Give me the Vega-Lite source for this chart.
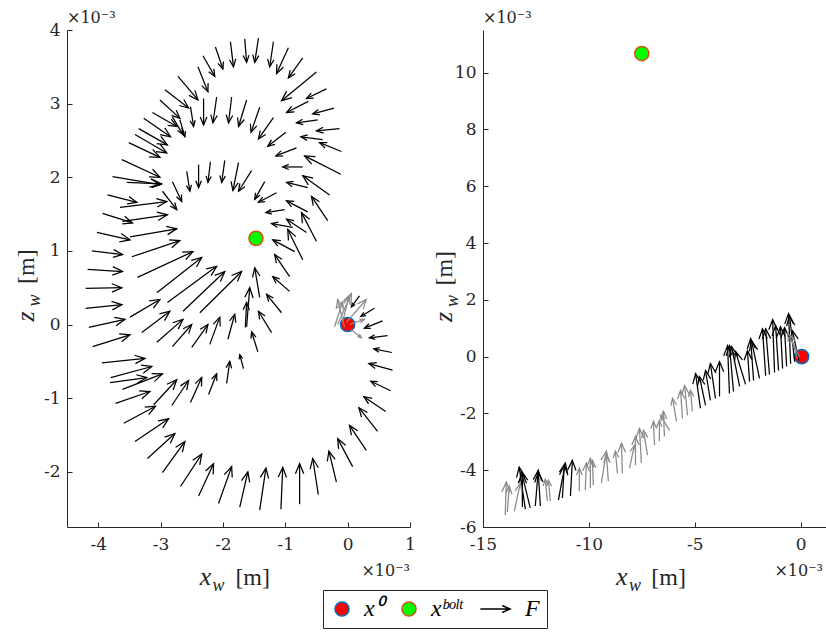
{
  "$schema": "https://vega.github.io/schema/vega-lite/v6.json",
  "background": "white",
  "padding": {"left": 13, "top": 10, "right": 0, "bottom": 0},
  "spacing": 73,
  "bounds": "flush",
  "config": {
    "view": {"stroke": null},
    "axis": {"domainColor": "#262626", "domainWidth": 1, "tickColor": "#262626", "tickWidth": 1, "tickSize": -5, "labelColor": "#262626", "labelFont": "DejaVu Serif", "labelFontSize": 17, "grid": false, "labelFlush": false, "labelOverlap": false},
    "axisX": {"labelPadding": 14},
    "axisY": {"labelPadding": 12},
    "legend": {"orient": "none", "legendX": 256, "legendY": 560, "direction": "horizontal", "columns": 3, "strokeColor": "#262626", "fillColor": "#ffffff", "padding": 7, "labelFont": "Liberation Serif", "labelFontStyle": "italic", "labelFontSize": 24, "labelColor": "#000000", "symbolSize": 200, "symbolStrokeWidth": 1.5, "labelOffset": 10, "columnPadding": 14, "symbolOpacity": 1}
  },
  "datasets": {
    "L": [
      {"x":-1.65,"y":3.88,"xt":-1.62,"yt":3.56,"g":"k"},
      {"x":-1.43,"y":3.89,"xt":-1.49,"yt":3.56,"g":"k"},
      {"x":-1.19,"y":3.84,"xt":-1.25,"yt":3.50,"g":"k"},
      {"x":-0.95,"y":3.76,"xt":-1.14,"yt":3.41,"g":"k"},
      {"x":-0.72,"y":3.62,"xt":-0.95,"yt":3.35,"g":"k"},
      {"x":-0.50,"y":3.43,"xt":-1.06,"yt":3.04,"g":"k"},
      {"x":-0.34,"y":3.20,"xt":-0.66,"yt":3.07,"g":"k"},
      {"x":-0.22,"y":2.94,"xt":-0.56,"yt":2.86,"g":"k"},
      {"x":-0.13,"y":2.66,"xt":-0.50,"yt":2.63,"g":"k"},
      {"x":-0.10,"y":2.35,"xt":-0.45,"yt":2.47,"g":"k"},
      {"x":-0.11,"y":2.04,"xt":-0.69,"yt":2.29,"g":"k"},
      {"x":-0.29,"y":1.76,"xt":-0.72,"yt":2.02,"g":"k"},
      {"x":-1.88,"y":3.84,"xt":-1.83,"yt":3.50,"g":"k"},
      {"x":-2.12,"y":3.77,"xt":-2.00,"yt":3.47,"g":"k"},
      {"x":-2.32,"y":3.65,"xt":-2.13,"yt":3.37,"g":"k"},
      {"x":-2.40,"y":3.50,"xt":-2.24,"yt":3.16,"g":"k"},
      {"x":-2.72,"y":3.37,"xt":-2.40,"yt":3.05,"g":"k"},
      {"x":-2.93,"y":3.19,"xt":-2.55,"yt":2.94,"g":"k"},
      {"x":-3.01,"y":3.05,"xt":-2.69,"yt":2.80,"g":"k"},
      {"x":-3.13,"y":2.88,"xt":-2.74,"yt":2.69,"g":"k"},
      {"x":-3.27,"y":2.80,"xt":-2.84,"yt":2.55,"g":"k"},
      {"x":-3.35,"y":2.66,"xt":-2.89,"yt":2.44,"g":"k"},
      {"x":-3.41,"y":2.58,"xt":-2.90,"yt":2.33,"g":"k"},
      {"x":-3.51,"y":2.47,"xt":-3.01,"yt":2.27,"g":"k"},
      {"x":-3.62,"y":2.24,"xt":-3.01,"yt":2.00,"g":"k"},
      {"x":-3.77,"y":2.01,"xt":-3.01,"yt":1.90,"g":"k"},
      {"x":-3.54,"y":1.93,"xt":-2.98,"yt":1.91,"g":"k"},
      {"x":-3.85,"y":1.76,"xt":-3.38,"yt":1.66,"g":"k"},
      {"x":-3.93,"y":1.51,"xt":-3.45,"yt":1.38,"g":"k"},
      {"x":-4.02,"y":1.25,"xt":-3.49,"yt":1.15,"g":"k"},
      {"x":-4.10,"y":1.00,"xt":-3.61,"yt":0.95,"g":"k"},
      {"x":-4.17,"y":0.75,"xt":-3.61,"yt":0.72,"g":"k"},
      {"x":-4.20,"y":0.49,"xt":-3.62,"yt":0.50,"g":"k"},
      {"x":-4.20,"y":0.22,"xt":-3.62,"yt":0.27,"g":"k"},
      {"x":-4.15,"y":-0.04,"xt":-3.57,"yt":0.07,"g":"k"},
      {"x":-4.09,"y":-0.30,"xt":-3.49,"yt":-0.14,"g":"k"},
      {"x":-3.94,"y":-0.52,"xt":-3.25,"yt":-0.46,"g":"k"},
      {"x":-3.80,"y":-0.72,"xt":-3.14,"yt":-0.57,"g":"k"},
      {"x":-3.81,"y":-0.79,"xt":-3.22,"yt":-0.72,"g":"k"},
      {"x":-3.72,"y":-1.07,"xt":-3.17,"yt":-0.91,"g":"k"},
      {"x":-3.59,"y":-1.34,"xt":-3.08,"yt":-1.11,"g":"k"},
      {"x":-3.41,"y":-1.59,"xt":-2.87,"yt":-1.28,"g":"k"},
      {"x":-3.21,"y":-1.82,"xt":-2.77,"yt":-1.48,"g":"k"},
      {"x":-2.97,"y":-2.01,"xt":-2.61,"yt":-1.59,"g":"k"},
      {"x":-2.68,"y":-2.20,"xt":-2.34,"yt":-1.76,"g":"k"},
      {"x":-2.39,"y":-2.33,"xt":-2.15,"yt":-1.89,"g":"k"},
      {"x":-2.07,"y":-2.43,"xt":-1.86,"yt":-1.93,"g":"k"},
      {"x":-1.73,"y":-2.48,"xt":-1.60,"yt":-2.00,"g":"k"},
      {"x":-1.41,"y":-2.52,"xt":-1.31,"yt":-1.95,"g":"k"},
      {"x":-1.07,"y":-2.51,"xt":-1.04,"yt":-1.94,"g":"k"},
      {"x":-0.77,"y":-2.44,"xt":-0.77,"yt":-1.89,"g":"k"},
      {"x":-0.47,"y":-2.31,"xt":-0.56,"yt":-1.82,"g":"k"},
      {"x":-0.18,"y":-2.14,"xt":-0.30,"yt":-1.72,"g":"k"},
      {"x":0.08,"y":-1.93,"xt":-0.16,"yt":-1.55,"g":"k"},
      {"x":0.30,"y":-1.71,"xt":0.03,"yt":-1.37,"g":"k"},
      {"x":0.48,"y":-1.45,"xt":0.18,"yt":-1.13,"g":"k"},
      {"x":0.61,"y":-1.18,"xt":0.26,"yt":-0.98,"g":"k"},
      {"x":0.69,"y":-0.90,"xt":0.37,"yt":-0.77,"g":"k"},
      {"x":0.72,"y":-0.62,"xt":0.34,"yt":-0.53,"g":"k"},
      {"x":0.71,"y":-0.38,"xt":0.42,"yt":-0.33,"g":"k"},
      {"x":0.64,"y":-0.15,"xt":0.35,"yt":-0.18,"g":"k"},
      {"x":0.56,"y":0.05,"xt":0.27,"yt":-0.05,"g":"k"},
      {"x":0.43,"y":0.22,"xt":0.21,"yt":0.11,"g":"k"},
      {"x":0.19,"y":0.39,"xt":0.06,"yt":0.24,"g":"k"},
      {"x":-3.61,"y":-0.88,"xt":-2.97,"yt":-0.67,"g":"k"},
      {"x":-3.11,"y":-1.09,"xt":-2.74,"yt":-0.75,"g":"k"},
      {"x":-2.82,"y":-1.10,"xt":-2.55,"yt":-0.76,"g":"k"},
      {"x":-2.52,"y":-1.06,"xt":-2.34,"yt":-0.72,"g":"k"},
      {"x":-2.23,"y":-0.95,"xt":-2.10,"yt":-0.67,"g":"k"},
      {"x":-1.94,"y":-0.80,"xt":-1.89,"yt":-0.50,"g":"k"},
      {"x":-1.67,"y":-0.60,"xt":-1.73,"yt":-0.41,"g":"k"},
      {"x":-3.65,"y":1.59,"xt":-2.90,"yt":1.67,"g":"k"},
      {"x":-3.61,"y":1.40,"xt":-2.89,"yt":1.49,"g":"k"},
      {"x":-3.49,"y":1.19,"xt":-2.74,"yt":1.30,"g":"k"},
      {"x":-3.46,"y":0.92,"xt":-2.69,"yt":1.14,"g":"k"},
      {"x":-3.37,"y":0.64,"xt":-2.48,"yt":0.99,"g":"k"},
      {"x":-3.06,"y":0.43,"xt":-2.34,"yt":0.91,"g":"k"},
      {"x":-2.89,"y":0.30,"xt":-2.10,"yt":0.79,"g":"k"},
      {"x":-2.64,"y":0.18,"xt":-1.97,"yt":0.72,"g":"k"},
      {"x":-2.37,"y":0.16,"xt":-1.70,"yt":0.72,"g":"k"},
      {"x":-3.49,"y":0.10,"xt":-3.01,"yt":0.34,"g":"k"},
      {"x":-3.30,"y":-0.11,"xt":-2.85,"yt":0.18,"g":"k"},
      {"x":-3.06,"y":-0.24,"xt":-2.64,"yt":0.07,"g":"k"},
      {"x":-2.81,"y":-0.30,"xt":-2.50,"yt":0.00,"g":"k"},
      {"x":-2.50,"y":-0.31,"xt":-2.24,"yt":0.00,"g":"k"},
      {"x":-2.21,"y":-0.27,"xt":-2.05,"yt":0.10,"g":"k"},
      {"x":-1.92,"y":-0.20,"xt":-1.81,"yt":0.14,"g":"k"},
      {"x":-1.62,"y":-0.03,"xt":-1.57,"yt":0.50,"g":"k"},
      {"x":-1.44,"y":-0.37,"xt":-1.54,"yt":-0.10,"g":"k"},
      {"x":-1.22,"y":-0.11,"xt":-1.43,"yt":0.18,"g":"k"},
      {"x":-1.06,"y":0.16,"xt":-1.30,"yt":0.41,"g":"k"},
      {"x":-0.93,"y":0.45,"xt":-1.20,"yt":0.65,"g":"k"},
      {"x":-1.64,"y":-0.04,"xt":-1.62,"yt":0.30,"g":"k"},
      {"x":-1.41,"y":0.37,"xt":-1.49,"yt":0.77,"g":"k"},
      {"x":-1.14,"y":1.79,"xt":-1.43,"yt":1.66,"g":"k"},
      {"x":-1.01,"y":1.56,"xt":-1.31,"yt":1.52,"g":"k"},
      {"x":-0.64,"y":1.53,"xt":-0.98,"yt":1.68,"g":"k"},
      {"x":-0.32,"y":1.41,"xt":-0.58,"yt":1.74,"g":"k"},
      {"x":-0.50,"y":1.13,"xt":-0.74,"yt":1.52,"g":"k"},
      {"x":-0.88,"y":1.32,"xt":-1.22,"yt":1.37,"g":"k"},
      {"x":-0.66,"y":1.25,"xt":-0.98,"yt":1.43,"g":"k"},
      {"x":-0.72,"y":0.88,"xt":-0.96,"yt":1.29,"g":"k"},
      {"x":-0.85,"y":0.99,"xt":-1.20,"yt":1.15,"g":"k"},
      {"x":-0.93,"y":0.65,"xt":-1.17,"yt":0.95,"g":"k"},
      {"x":-2.97,"y":1.81,"xt":-2.74,"yt":1.56,"g":"k"},
      {"x":-2.81,"y":1.94,"xt":-2.66,"yt":1.67,"g":"k"},
      {"x":-2.58,"y":2.08,"xt":-2.53,"yt":1.81,"g":"k"},
      {"x":-2.39,"y":2.17,"xt":-2.39,"yt":1.86,"g":"k"},
      {"x":-2.20,"y":2.21,"xt":-2.24,"yt":1.93,"g":"k"},
      {"x":-1.97,"y":2.23,"xt":-2.02,"yt":1.93,"g":"k"},
      {"x":-1.75,"y":2.20,"xt":-1.84,"yt":1.82,"g":"k"},
      {"x":-1.54,"y":2.09,"xt":-1.75,"yt":1.81,"g":"k"},
      {"x":-1.33,"y":1.94,"xt":-1.49,"yt":1.70,"g":"k"},
      {"x":-2.52,"y":2.96,"xt":-2.47,"yt":2.69,"g":"k"},
      {"x":-2.31,"y":3.07,"xt":-2.31,"yt":2.71,"g":"k"},
      {"x":-2.10,"y":3.09,"xt":-2.16,"yt":2.74,"g":"k"},
      {"x":-1.86,"y":3.09,"xt":-1.91,"yt":2.74,"g":"k"},
      {"x":-1.62,"y":3.05,"xt":-1.75,"yt":2.69,"g":"k"},
      {"x":-1.41,"y":2.95,"xt":-1.55,"yt":2.61,"g":"k"},
      {"x":-1.19,"y":2.81,"xt":-1.43,"yt":2.52,"g":"k"},
      {"x":-0.99,"y":2.61,"xt":-1.28,"yt":2.42,"g":"k"},
      {"x":-0.82,"y":2.40,"xt":-1.15,"yt":2.29,"g":"k"},
      {"x":-0.72,"y":2.14,"xt":-1.04,"yt":2.14,"g":"k"},
      {"x":-0.64,"y":1.86,"xt":-0.98,"yt":1.93,"g":"k"},
      {"x":-2.69,"y":2.78,"xt":-2.61,"yt":2.55,"g":"k"},
      {"x":-0.63,"y":3.03,"xt":-0.98,"yt":2.88,"g":"k"},
      {"x":-0.48,"y":2.78,"xt":-0.82,"yt":2.74,"g":"k"},
      {"x":-0.40,"y":2.51,"xt":-0.75,"yt":2.55,"g":"k"},
      {"x":-2.81,"y":2.82,"xt":-2.64,"yt":2.58,"g":"k"},
      {"x":-0.21,"y":-0.03,"xt":-0.08,"yt":0.31,"g":"g"},
      {"x":-0.16,"y":0.00,"xt":0.06,"yt":0.42,"g":"g"},
      {"x":-0.02,"y":0.03,"xt":0.30,"yt":0.34,"g":"g"},
      {"x":0.03,"y":0.00,"xt":0.27,"yt":0.07,"g":"g"},
      {"x":-0.05,"y":-0.04,"xt":-0.16,"yt":0.34,"g":"g"},
      {"x":0.06,"y":-0.07,"xt":0.22,"yt":-0.18,"g":"g"},
      {"x":-0.08,"y":0.04,"xt":0.02,"yt":0.38,"g":"g"}
    ],
    "R": [
      {"x":-13.95,"y":-5.58,"xt":-13.90,"yt":-4.42,"g":"g"},
      {"x":-13.85,"y":-5.47,"xt":-13.76,"yt":-4.56,"g":"g"},
      {"x":-13.52,"y":-5.44,"xt":-13.24,"yt":-4.46,"g":"g"},
      {"x":-13.00,"y":-5.37,"xt":-13.29,"yt":-3.89,"g":"k"},
      {"x":-12.77,"y":-5.33,"xt":-13.19,"yt":-4.04,"g":"k"},
      {"x":-13.14,"y":-5.30,"xt":-13.14,"yt":-4.11,"g":"k"},
      {"x":-12.53,"y":-5.26,"xt":-12.39,"yt":-4.00,"g":"k"},
      {"x":-12.29,"y":-5.26,"xt":-12.39,"yt":-4.07,"g":"k"},
      {"x":-11.96,"y":-5.09,"xt":-12.06,"yt":-4.32,"g":"g"},
      {"x":-11.82,"y":-5.09,"xt":-11.91,"yt":-4.35,"g":"g"},
      {"x":-11.44,"y":-5.05,"xt":-11.11,"yt":-3.75,"g":"k"},
      {"x":-11.25,"y":-4.98,"xt":-11.16,"yt":-3.82,"g":"k"},
      {"x":-10.87,"y":-4.91,"xt":-10.78,"yt":-3.65,"g":"k"},
      {"x":-10.45,"y":-4.74,"xt":-10.45,"yt":-3.93,"g":"g"},
      {"x":-10.17,"y":-4.70,"xt":-10.12,"yt":-3.75,"g":"g"},
      {"x":-9.93,"y":-4.63,"xt":-9.93,"yt":-3.58,"g":"g"},
      {"x":-9.79,"y":-4.53,"xt":-9.83,"yt":-3.65,"g":"g"},
      {"x":-9.41,"y":-4.46,"xt":-9.17,"yt":-3.33,"g":"g"},
      {"x":-9.08,"y":-4.39,"xt":-9.17,"yt":-3.47,"g":"g"},
      {"x":-8.65,"y":-4.11,"xt":-8.75,"yt":-3.33,"g":"g"},
      {"x":-8.42,"y":-4.11,"xt":-8.46,"yt":-3.05,"g":"g"},
      {"x":-8.08,"y":-3.93,"xt":-7.85,"yt":-3.12,"g":"g"},
      {"x":-7.80,"y":-3.82,"xt":-7.80,"yt":-2.81,"g":"g"},
      {"x":-7.52,"y":-3.75,"xt":-7.61,"yt":-2.53,"g":"g"},
      {"x":-7.23,"y":-3.47,"xt":-7.42,"yt":-2.60,"g":"g"},
      {"x":-6.90,"y":-3.12,"xt":-6.95,"yt":-2.28,"g":"g"},
      {"x":-6.67,"y":-2.98,"xt":-6.67,"yt":-2.25,"g":"g"},
      {"x":-6.43,"y":-2.81,"xt":-6.48,"yt":-1.93,"g":"g"},
      {"x":-6.19,"y":-2.60,"xt":-6.62,"yt":-2.07,"g":"g"},
      {"x":-5.86,"y":-2.28,"xt":-6.05,"yt":-1.47,"g":"g"},
      {"x":-5.58,"y":-2.18,"xt":-5.67,"yt":-1.19,"g":"g"},
      {"x":-5.34,"y":-2.07,"xt":-5.48,"yt":-1.02,"g":"g"},
      {"x":-5.11,"y":-1.93,"xt":-5.20,"yt":-1.19,"g":"g"},
      {"x":-4.73,"y":-1.82,"xt":-4.96,"yt":-0.60,"g":"k"},
      {"x":-4.49,"y":-1.72,"xt":-4.78,"yt":-0.70,"g":"k"},
      {"x":-4.26,"y":-1.54,"xt":-4.49,"yt":-0.49,"g":"k"},
      {"x":-4.02,"y":-1.47,"xt":-4.26,"yt":-0.25,"g":"k"},
      {"x":-3.83,"y":-1.40,"xt":-3.83,"yt":-0.18,"g":"k"},
      {"x":-3.36,"y":-1.30,"xt":-3.45,"yt":0.39,"g":"k"},
      {"x":-3.17,"y":-1.23,"xt":-3.36,"yt":0.39,"g":"k"},
      {"x":-2.88,"y":-1.05,"xt":-3.26,"yt":0.35,"g":"k"},
      {"x":-2.60,"y":-0.98,"xt":-3.07,"yt":0.18,"g":"k"},
      {"x":-2.41,"y":-0.88,"xt":-2.51,"yt":0.21,"g":"k"},
      {"x":-2.22,"y":-0.84,"xt":-2.36,"yt":0.63,"g":"k"},
      {"x":-1.94,"y":-0.77,"xt":-2.32,"yt":0.56,"g":"k"},
      {"x":-1.65,"y":-0.67,"xt":-1.80,"yt":0.98,"g":"k"},
      {"x":-1.47,"y":-0.63,"xt":-1.65,"yt":0.98,"g":"k"},
      {"x":-1.23,"y":-0.56,"xt":-1.32,"yt":1.30,"g":"k"},
      {"x":-1.04,"y":-0.49,"xt":-1.18,"yt":1.09,"g":"k"},
      {"x":-0.85,"y":-0.42,"xt":-0.95,"yt":1.05,"g":"k"},
      {"x":-0.66,"y":-0.35,"xt":-0.76,"yt":1.02,"g":"k"},
      {"x":-0.47,"y":-0.25,"xt":-0.57,"yt":1.51,"g":"k"},
      {"x":-0.28,"y":-0.18,"xt":-0.52,"yt":1.44,"g":"k"},
      {"x":-0.09,"y":-0.14,"xt":-0.38,"yt":0.91,"g":"k"},
      {"x":-0.14,"y":-0.07,"xt":-0.47,"yt":0.74,"g":"g"},
      {"x":-0.05,"y":0.00,"xt":-0.61,"yt":0.81,"g":"g"}
    ],
    "ML": [
      {"x":0,"y":0,"kind":"x⁰"},
      {"x":-1.47,"y":1.17,"kind":"xᵇᵒˡᵗ"}
    ],
    "MR": [
      {"x":0.05,"y":0,"kind":"x⁰"},
      {"x":-7.5,"y":10.67,"kind":"xᵇᵒˡᵗ"}
    ]
  },
  "hconcat": [
    {
      "width": 343,
      "height": 497,
      "layer": [
        {
          "data": {"name": "ML"},
          "mark": {"type": "point", "filled": true, "size": 200, "strokeWidth": 1.5, "opacity": 1},
          "encoding": {
            "x": {"field": "x", "type": "quantitative", "scale": {"domain": [-4.5, 1], "nice": false, "zero": false}, "axis": {"values": [-4, -3, -2, -1, 0, 1], "title": null, "labelExpr": "replace(datum.label, '−', '-')"}},
            "y": {"field": "y", "type": "quantitative", "scale": {"domain": [-2.75, 4], "nice": false, "zero": false}, "axis": {"values": [-2, -1, 0, 1, 2, 3, 4], "title": null, "labelExpr": "replace(datum.label, '−', '-')"}},
            "fill": {"field": "kind", "type": "nominal", "scale": {"domain": ["x⁰", "xᵇᵒˡᵗ", "F"], "range": ["#ff0000", "#00ff00", "transparent"]}, "legend": {"title": null}},
            "stroke": {"field": "kind", "type": "nominal", "scale": {"domain": ["x⁰", "xᵇᵒˡᵗ", "F"], "range": ["#0072bd", "#d95319", "#000000"]}, "legend": {"title": null}},
            "shape": {"field": "kind", "type": "nominal", "scale": {"domain": ["x⁰", "xᵇᵒˡᵗ", "F"], "range": ["circle", "circle", "M-3.2,0L1,0M-0.1,-0.5L1,0L-0.1,0.5"]}, "legend": {"title": null}}
          }
        },
        {
          "data": {"name": "L"},
          "mark": {"type": "rule", "strokeWidth": 1.25},
          "encoding": {
            "x": {"field": "x", "type": "quantitative", "scale": {"domain": [-4.5, 1], "nice": false, "zero": false}, "axis": {"values": [-4, -3, -2, -1, 0, 1], "title": null, "labelExpr": "replace(datum.label, '−', '-')"}},
            "y": {"field": "y", "type": "quantitative", "scale": {"domain": [-2.75, 4], "nice": false, "zero": false}, "axis": {"values": [-2, -1, 0, 1, 2, 3, 4], "title": null, "labelExpr": "replace(datum.label, '−', '-')"}},
            "x2": {"field": "xt"},
            "y2": {"field": "yt"},
            "color": {"field": "g", "type": "nominal", "scale": {"domain": ["k", "g"], "range": ["#000000", "#8a8a8a"]}, "legend": null}
          }
        },
        {
          "data": {"name": "L"},
          "transform": [
            {"calculate": "(datum.xt - datum.x) * 62.364", "as": "px"},
            {"calculate": "(datum.y - datum.yt) * 73.63", "as": "py"},
            {"calculate": "atan2(datum.py, datum.px) * 180 / PI", "as": "ang"},
            {"calculate": "pow(2 * min(0.3 * sqrt(datum.px * datum.px + datum.py * datum.py), 10), 2)", "as": "hs"}
          ],
          "mark": {"type": "point", "filled": false, "strokeWidth": 1.25, "opacity": 1, "shape": "M-1,-0.42L0,0L-1,0.42"},
          "encoding": {
            "x": {"field": "xt", "type": "quantitative", "scale": {"domain": [-4.5, 1], "nice": false, "zero": false}, "axis": {"values": [-4, -3, -2, -1, 0, 1], "title": null, "labelExpr": "replace(datum.label, '−', '-')"}},
            "y": {"field": "yt", "type": "quantitative", "scale": {"domain": [-2.75, 4], "nice": false, "zero": false}, "axis": {"values": [-2, -1, 0, 1, 2, 3, 4], "title": null, "labelExpr": "replace(datum.label, '−', '-')"}},
            "angle": {"field": "ang", "type": "quantitative", "scale": null},
            "size": {"field": "hs", "type": "quantitative", "scale": null},
            "color": {"field": "g", "type": "nominal", "scale": {"domain": ["k", "g"], "range": ["#000000", "#8a8a8a"]}, "legend": null}
          }
        },
        {
          "data": {"values": [{}]},
          "mark": {"type": "text", "text": "×10⁻³", "font": "DejaVu Serif", "fontSize": 16, "align": "left", "baseline": "alphabetic", "dy": -7, "color": "#262626"},
          "encoding": {
            "x": {"datum": -4.5, "type": "quantitative", "scale": {"domain": [-4.5, 1], "nice": false, "zero": false}, "axis": {"values": [-4, -3, -2, -1, 0, 1], "title": null, "labelExpr": "replace(datum.label, '−', '-')"}},
            "y": {"datum": 4, "type": "quantitative", "scale": {"domain": [-2.75, 4], "nice": false, "zero": false}, "axis": {"values": [-2, -1, 0, 1, 2, 3, 4], "title": null, "labelExpr": "replace(datum.label, '−', '-')"}}
          }
        },
        {
          "data": {"values": [{}]},
          "mark": {"type": "text", "text": "×10⁻³", "font": "DejaVu Serif", "fontSize": 16, "align": "right", "baseline": "alphabetic", "dy": 49, "color": "#262626"},
          "encoding": {
            "x": {"datum": 1, "type": "quantitative", "scale": {"domain": [-4.5, 1], "nice": false, "zero": false}, "axis": {"values": [-4, -3, -2, -1, 0, 1], "title": null, "labelExpr": "replace(datum.label, '−', '-')"}},
            "y": {"datum": -2.75, "type": "quantitative", "scale": {"domain": [-2.75, 4], "nice": false, "zero": false}, "axis": {"values": [-2, -1, 0, 1, 2, 3, 4], "title": null, "labelExpr": "replace(datum.label, '−', '-')"}}
          }
        },
        {
          "data": {"values": [{}]},
          "mark": {"type": "text", "text": "x", "font": "Liberation Serif", "fontStyle": "italic", "fontSize": 26, "align": "left", "baseline": "alphabetic", "dy": 58, "color": "#262626"},
          "encoding": {
            "x": {"datum": -2.373, "type": "quantitative", "scale": {"domain": [-4.5, 1], "nice": false, "zero": false}, "axis": {"values": [-4, -3, -2, -1, 0, 1], "title": null, "labelExpr": "replace(datum.label, '−', '-')"}},
            "y": {"datum": -2.75, "type": "quantitative", "scale": {"domain": [-2.75, 4], "nice": false, "zero": false}, "axis": {"values": [-2, -1, 0, 1, 2, 3, 4], "title": null, "labelExpr": "replace(datum.label, '−', '-')"}}
          }
        },
        {
          "data": {"values": [{}]},
          "mark": {"type": "text", "text": "w", "font": "Liberation Serif", "fontStyle": "italic", "fontSize": 18, "align": "left", "baseline": "alphabetic", "dy": 64, "color": "#262626"},
          "encoding": {
            "x": {"datum": -2.165, "type": "quantitative", "scale": {"domain": [-4.5, 1], "nice": false, "zero": false}, "axis": {"values": [-4, -3, -2, -1, 0, 1], "title": null, "labelExpr": "replace(datum.label, '−', '-')"}},
            "y": {"datum": -2.75, "type": "quantitative", "scale": {"domain": [-2.75, 4], "nice": false, "zero": false}, "axis": {"values": [-2, -1, 0, 1, 2, 3, 4], "title": null, "labelExpr": "replace(datum.label, '−', '-')"}}
          }
        },
        {
          "data": {"values": [{}]},
          "mark": {"type": "text", "text": "[m]", "font": "Liberation Serif", "fontSize": 24, "align": "left", "baseline": "alphabetic", "dy": 58, "color": "#262626"},
          "encoding": {
            "x": {"datum": -1.8, "type": "quantitative", "scale": {"domain": [-4.5, 1], "nice": false, "zero": false}, "axis": {"values": [-4, -3, -2, -1, 0, 1], "title": null, "labelExpr": "replace(datum.label, '−', '-')"}},
            "y": {"datum": -2.75, "type": "quantitative", "scale": {"domain": [-2.75, 4], "nice": false, "zero": false}, "axis": {"values": [-2, -1, 0, 1, 2, 3, 4], "title": null, "labelExpr": "replace(datum.label, '−', '-')"}}
          }
        },
        {
          "data": {"values": [{}]},
          "mark": {"type": "text", "text": "z", "font": "Liberation Serif", "fontStyle": "italic", "fontSize": 26, "align": "left", "baseline": "alphabetic", "angle": 270, "dy": -33, "color": "#262626"},
          "encoding": {
            "x": {"datum": -4.5, "type": "quantitative", "scale": {"domain": [-4.5, 1], "nice": false, "zero": false}, "axis": {"values": [-4, -3, -2, -1, 0, 1], "title": null, "labelExpr": "replace(datum.label, '−', '-')"}},
            "y": {"datum": 0.041, "type": "quantitative", "scale": {"domain": [-2.75, 4], "nice": false, "zero": false}, "axis": {"values": [-2, -1, 0, 1, 2, 3, 4], "title": null, "labelExpr": "replace(datum.label, '−', '-')"}}
          }
        },
        {
          "data": {"values": [{}]},
          "mark": {"type": "text", "text": "w", "font": "Liberation Serif", "fontStyle": "italic", "fontSize": 18, "align": "left", "baseline": "alphabetic", "angle": 270, "dy": -27, "color": "#262626"},
          "encoding": {
            "x": {"datum": -4.5, "type": "quantitative", "scale": {"domain": [-4.5, 1], "nice": false, "zero": false}, "axis": {"values": [-4, -3, -2, -1, 0, 1], "title": null, "labelExpr": "replace(datum.label, '−', '-')"}},
            "y": {"datum": 0.244, "type": "quantitative", "scale": {"domain": [-2.75, 4], "nice": false, "zero": false}, "axis": {"values": [-2, -1, 0, 1, 2, 3, 4], "title": null, "labelExpr": "replace(datum.label, '−', '-')"}}
          }
        },
        {
          "data": {"values": [{}]},
          "mark": {"type": "text", "text": "[m]", "font": "Liberation Serif", "fontSize": 24, "align": "left", "baseline": "alphabetic", "angle": 270, "dy": -33, "color": "#262626"},
          "encoding": {
            "x": {"datum": -4.5, "type": "quantitative", "scale": {"domain": [-4.5, 1], "nice": false, "zero": false}, "axis": {"values": [-4, -3, -2, -1, 0, 1], "title": null, "labelExpr": "replace(datum.label, '−', '-')"}},
            "y": {"datum": 0.55, "type": "quantitative", "scale": {"domain": [-2.75, 4], "nice": false, "zero": false}, "axis": {"values": [-2, -1, 0, 1, 2, 3, 4], "title": null, "labelExpr": "replace(datum.label, '−', '-')"}}
          }
        }
      ]
    },
    {
      "width": 343,
      "height": 497,
      "layer": [
        {
          "data": {"name": "MR"},
          "mark": {"type": "point", "filled": true, "size": 200, "strokeWidth": 1.5, "opacity": 1},
          "encoding": {
            "x": {"field": "x", "type": "quantitative", "scale": {"domain": [-15, 1.2], "nice": false, "zero": false}, "axis": {"values": [-15, -10, -5, 0], "title": null, "labelExpr": "replace(datum.label, '−', '-')"}},
            "y": {"field": "y", "type": "quantitative", "scale": {"domain": [-6, 11.5], "nice": false, "zero": false}, "axis": {"values": [-6, -4, -2, 0, 2, 4, 6, 8, 10], "title": null, "labelExpr": "replace(datum.label, '−', '-')"}},
            "fill": {"field": "kind", "type": "nominal", "scale": {"domain": ["x⁰", "xᵇᵒˡᵗ", "F"], "range": ["#ff0000", "#00ff00", "transparent"]}, "legend": {"title": null}},
            "stroke": {"field": "kind", "type": "nominal", "scale": {"domain": ["x⁰", "xᵇᵒˡᵗ", "F"], "range": ["#0072bd", "#d95319", "#000000"]}, "legend": {"title": null}},
            "shape": {"field": "kind", "type": "nominal", "scale": {"domain": ["x⁰", "xᵇᵒˡᵗ", "F"], "range": ["circle", "circle", "M-3.2,0L1,0M-0.1,-0.5L1,0L-0.1,0.5"]}, "legend": {"title": null}}
          }
        },
        {
          "data": {"name": "R"},
          "mark": {"type": "rule", "strokeWidth": 1.25},
          "encoding": {
            "x": {"field": "x", "type": "quantitative", "scale": {"domain": [-15, 1.2], "nice": false, "zero": false}, "axis": {"values": [-15, -10, -5, 0], "title": null, "labelExpr": "replace(datum.label, '−', '-')"}},
            "y": {"field": "y", "type": "quantitative", "scale": {"domain": [-6, 11.5], "nice": false, "zero": false}, "axis": {"values": [-6, -4, -2, 0, 2, 4, 6, 8, 10], "title": null, "labelExpr": "replace(datum.label, '−', '-')"}},
            "x2": {"field": "xt"},
            "y2": {"field": "yt"},
            "color": {"field": "g", "type": "nominal", "scale": {"domain": ["k", "g"], "range": ["#000000", "#8a8a8a"]}, "legend": null}
          }
        },
        {
          "data": {"name": "R"},
          "transform": [
            {"calculate": "(datum.xt - datum.x) * 21.173", "as": "px"},
            {"calculate": "(datum.y - datum.yt) * 28.4", "as": "py"},
            {"calculate": "atan2(datum.py, datum.px) * 180 / PI", "as": "ang"},
            {"calculate": "pow(2 * min(0.3 * sqrt(datum.px * datum.px + datum.py * datum.py), 10), 2)", "as": "hs"}
          ],
          "mark": {"type": "point", "filled": false, "strokeWidth": 1.25, "opacity": 1, "shape": "M-1,-0.42L0,0L-1,0.42"},
          "encoding": {
            "x": {"field": "xt", "type": "quantitative", "scale": {"domain": [-15, 1.2], "nice": false, "zero": false}, "axis": {"values": [-15, -10, -5, 0], "title": null, "labelExpr": "replace(datum.label, '−', '-')"}},
            "y": {"field": "yt", "type": "quantitative", "scale": {"domain": [-6, 11.5], "nice": false, "zero": false}, "axis": {"values": [-6, -4, -2, 0, 2, 4, 6, 8, 10], "title": null, "labelExpr": "replace(datum.label, '−', '-')"}},
            "angle": {"field": "ang", "type": "quantitative", "scale": null},
            "size": {"field": "hs", "type": "quantitative", "scale": null},
            "color": {"field": "g", "type": "nominal", "scale": {"domain": ["k", "g"], "range": ["#000000", "#8a8a8a"]}, "legend": null}
          }
        },
        {
          "data": {"values": [{}]},
          "mark": {"type": "text", "text": "×10⁻³", "font": "DejaVu Serif", "fontSize": 16, "align": "left", "baseline": "alphabetic", "dy": -7, "color": "#262626"},
          "encoding": {
            "x": {"datum": -15, "type": "quantitative", "scale": {"domain": [-15, 1.2], "nice": false, "zero": false}, "axis": {"values": [-15, -10, -5, 0], "title": null, "labelExpr": "replace(datum.label, '−', '-')"}},
            "y": {"datum": 11.5, "type": "quantitative", "scale": {"domain": [-6, 11.5], "nice": false, "zero": false}, "axis": {"values": [-6, -4, -2, 0, 2, 4, 6, 8, 10], "title": null, "labelExpr": "replace(datum.label, '−', '-')"}}
          }
        },
        {
          "data": {"values": [{}]},
          "mark": {"type": "text", "text": "×10⁻³", "font": "DejaVu Serif", "fontSize": 16, "align": "right", "baseline": "alphabetic", "dy": 49, "dx": -3, "color": "#262626"},
          "encoding": {
            "x": {"datum": 1.2, "type": "quantitative", "scale": {"domain": [-15, 1.2], "nice": false, "zero": false}, "axis": {"values": [-15, -10, -5, 0], "title": null, "labelExpr": "replace(datum.label, '−', '-')"}},
            "y": {"datum": -6, "type": "quantitative", "scale": {"domain": [-6, 11.5], "nice": false, "zero": false}, "axis": {"values": [-6, -4, -2, 0, 2, 4, 6, 8, 10], "title": null, "labelExpr": "replace(datum.label, '−', '-')"}}
          }
        },
        {
          "data": {"values": [{}]},
          "mark": {"type": "text", "text": "x", "font": "Liberation Serif", "fontStyle": "italic", "fontSize": 26, "align": "left", "baseline": "alphabetic", "dy": 58, "color": "#262626"},
          "encoding": {
            "x": {"datum": -8.718, "type": "quantitative", "scale": {"domain": [-15, 1.2], "nice": false, "zero": false}, "axis": {"values": [-15, -10, -5, 0], "title": null, "labelExpr": "replace(datum.label, '−', '-')"}},
            "y": {"datum": -6, "type": "quantitative", "scale": {"domain": [-6, 11.5], "nice": false, "zero": false}, "axis": {"values": [-6, -4, -2, 0, 2, 4, 6, 8, 10], "title": null, "labelExpr": "replace(datum.label, '−', '-')"}}
          }
        },
        {
          "data": {"values": [{}]},
          "mark": {"type": "text", "text": "w", "font": "Liberation Serif", "fontStyle": "italic", "fontSize": 18, "align": "left", "baseline": "alphabetic", "dy": 64, "color": "#262626"},
          "encoding": {
            "x": {"datum": -8.104, "type": "quantitative", "scale": {"domain": [-15, 1.2], "nice": false, "zero": false}, "axis": {"values": [-15, -10, -5, 0], "title": null, "labelExpr": "replace(datum.label, '−', '-')"}},
            "y": {"datum": -6, "type": "quantitative", "scale": {"domain": [-6, 11.5], "nice": false, "zero": false}, "axis": {"values": [-6, -4, -2, 0, 2, 4, 6, 8, 10], "title": null, "labelExpr": "replace(datum.label, '−', '-')"}}
          }
        },
        {
          "data": {"values": [{}]},
          "mark": {"type": "text", "text": "[m]", "font": "Liberation Serif", "fontSize": 24, "align": "left", "baseline": "alphabetic", "dy": 58, "color": "#262626"},
          "encoding": {
            "x": {"datum": -7.05, "type": "quantitative", "scale": {"domain": [-15, 1.2], "nice": false, "zero": false}, "axis": {"values": [-15, -10, -5, 0], "title": null, "labelExpr": "replace(datum.label, '−', '-')"}},
            "y": {"datum": -6, "type": "quantitative", "scale": {"domain": [-6, 11.5], "nice": false, "zero": false}, "axis": {"values": [-6, -4, -2, 0, 2, 4, 6, 8, 10], "title": null, "labelExpr": "replace(datum.label, '−', '-')"}}
          }
        },
        {
          "data": {"values": [{}]},
          "mark": {"type": "text", "text": "z", "font": "Liberation Serif", "fontStyle": "italic", "fontSize": 26, "align": "left", "baseline": "alphabetic", "angle": 270, "dy": -31, "color": "#262626"},
          "encoding": {
            "x": {"datum": -15, "type": "quantitative", "scale": {"domain": [-15, 1.2], "nice": false, "zero": false}, "axis": {"values": [-15, -10, -5, 0], "title": null, "labelExpr": "replace(datum.label, '−', '-')"}},
            "y": {"datum": 1.218, "type": "quantitative", "scale": {"domain": [-6, 11.5], "nice": false, "zero": false}, "axis": {"values": [-6, -4, -2, 0, 2, 4, 6, 8, 10], "title": null, "labelExpr": "replace(datum.label, '−', '-')"}}
          }
        },
        {
          "data": {"values": [{}]},
          "mark": {"type": "text", "text": "w", "font": "Liberation Serif", "fontStyle": "italic", "fontSize": 18, "align": "left", "baseline": "alphabetic", "angle": 270, "dy": -25, "color": "#262626"},
          "encoding": {
            "x": {"datum": -15, "type": "quantitative", "scale": {"domain": [-15, 1.2], "nice": false, "zero": false}, "axis": {"values": [-15, -10, -5, 0], "title": null, "labelExpr": "replace(datum.label, '−', '-')"}},
            "y": {"datum": 1.746, "type": "quantitative", "scale": {"domain": [-6, 11.5], "nice": false, "zero": false}, "axis": {"values": [-6, -4, -2, 0, 2, 4, 6, 8, 10], "title": null, "labelExpr": "replace(datum.label, '−', '-')"}}
          }
        },
        {
          "data": {"values": [{}]},
          "mark": {"type": "text", "text": "[m]", "font": "Liberation Serif", "fontSize": 24, "align": "left", "baseline": "alphabetic", "angle": 270, "dy": -31, "color": "#262626"},
          "encoding": {
            "x": {"datum": -15, "type": "quantitative", "scale": {"domain": [-15, 1.2], "nice": false, "zero": false}, "axis": {"values": [-15, -10, -5, 0], "title": null, "labelExpr": "replace(datum.label, '−', '-')"}},
            "y": {"datum": 2.5, "type": "quantitative", "scale": {"domain": [-6, 11.5], "nice": false, "zero": false}, "axis": {"values": [-6, -4, -2, 0, 2, 4, 6, 8, 10], "title": null, "labelExpr": "replace(datum.label, '−', '-')"}}
          }
        }
      ]
    }
  ]
}
